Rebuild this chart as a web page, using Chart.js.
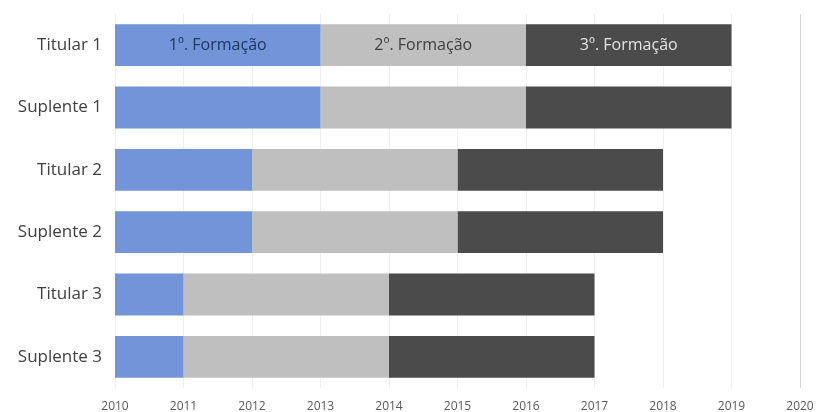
<!DOCTYPE html>
<html>
<head>
<meta charset="utf-8">
<script src="https://cdn.jsdelivr.net/npm/chart.js@4"></script>
<style>
  html, body { margin: 0; padding: 0; background: #fff; }
  #wrap { width: 816px; height: 412px; }
</style>
</head>
<body>
<div id="wrap"><canvas id="formacaoChart"></canvas></div>
<script>
// rows, top to bottom
const rows = ["Titular 1", "Suplente 1", "Titular 2", "Suplente 2", "Titular 3", "Suplente 3"];
const startYear = [2010, 2010, 2010, 2010, 2010, 2010];
const end1 = [2013, 2013, 2012, 2012, 2011, 2011];
const end2 = [2016, 2016, 2015, 2015, 2014, 2014];
const end3 = [2019, 2019, 2018, 2018, 2017, 2017];
const phaseNames = ["1º. Formação", "2º. Formação", "3º. Formação"];
const yearMin = 2010;
const yearMax = 2020;

const phaseColors = ["#7295d9", "#bfbfbf", "#4b4b4b"];
const phaseTextColors = ["#1f3763", "#404040", "#e2e2e2"];

const ranges = [
  rows.map((_, i) => [startYear[i], end1[i]]),
  rows.map((_, i) => [end1[i], end2[i]]),
  rows.map((_, i) => [end2[i], end3[i]]),
];

// write the phase name inside the bars of the first row
const phaseLabels = {
  id: "phaseLabels",
  afterDatasetsDraw(chart) {
    const ctx = chart.ctx;
    ctx.save();
    ctx.font = "16px 'Open Sans', sans-serif";
    ctx.textAlign = "center";
    ctx.textBaseline = "middle";
    chart.data.datasets.forEach((ds, d) => {
      const bar = chart.getDatasetMeta(d).data[0];
      if (!bar) return;
      const p = bar.getProps(["x", "base", "y"], true);
      ctx.fillStyle = phaseTextColors[d];
      ctx.fillText(phaseNames[d], (p.x + p.base) / 2, p.y);
    });
    ctx.restore();
  },
};

new Chart(document.getElementById("formacaoChart"), {
  type: "bar",
  data: {
    labels: rows,
    datasets: ranges.map((r, d) => ({
      label: phaseNames[d],
      data: r,
      backgroundColor: phaseColors[d],
      borderWidth: 0,
      borderSkipped: false,
      categoryPercentage: 1,
      barPercentage: 0.67,
      grouped: false,
    })),
  },
  options: {
    indexAxis: "y",
    responsive: true,
    maintainAspectRatio: false,
    animation: false,
    layout: { padding: { top: 14, right: 16, bottom: 0, left: 0 } },
    plugins: {
      legend: { display: false },
      tooltip: { enabled: false },
    },
    scales: {
      x: {
        min: yearMin,
        max: yearMax,
        border: { display: false },
        grid: {
          drawTicks: false,
          color: (c) => (c.tick && c.tick.value === yearMax ? "#d4d4d4" : "#efefef"),
        },
        ticks: {
          stepSize: 1,
          padding: 11,
          color: "#595959",
          font: { size: 12, family: "'Open Sans', sans-serif" },
          callback: (v) => String(v),
        },
        afterFit: (scale) => {
          scale.height = 24;
          scale.paddingLeft = 0;
          scale.paddingRight = 0;
        },
      },
      y: {
        border: { display: false },
        grid: { display: false, drawTicks: false },
        ticks: {
          padding: 13,
          color: "#404040",
          font: { size: 17, family: "'Open Sans', sans-serif" },
        },
        afterFit: (scale) => {
          scale.width = 115;
          scale.paddingTop = 0;
          scale.paddingBottom = 0;
        },
      },
    },
  },
  plugins: [phaseLabels],
});
</script>
</body>
</html>
